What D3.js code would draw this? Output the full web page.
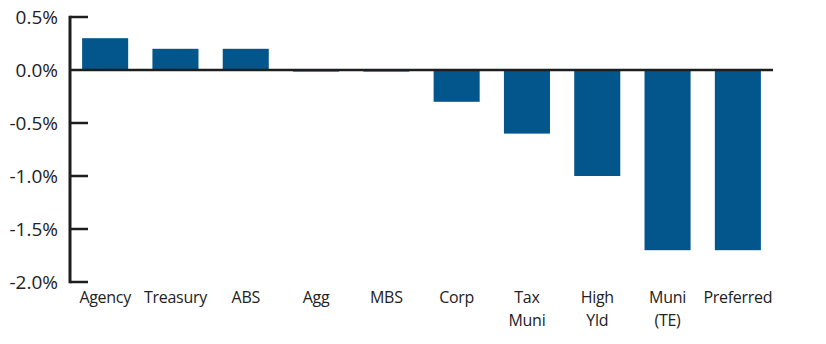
<!DOCTYPE html>
<html>
<head>
<meta charset="utf-8">
<script src="https://cdn.jsdelivr.net/npm/d3@7"></script>
<style>
  body { margin: 0; background: #fff; }
  text { font-family: "Open Sans", Lato, sans-serif; fill: #222; }
</style>
</head>
<body>
<svg width="826" height="344"></svg>
<script>
// data
var categories = ["Agency", "Treasury", "ABS", "Agg", "MBS", "Corp", "Tax\nMuni", "High\nYld", "Muni\n(TE)", "Preferred"];
var values = [0.3, 0.2, 0.2, -0.015, -0.015, -0.3, -0.6, -1.0, -1.7, -1.7];
var yTicks = [0.5, 0, -0.5, -1.0, -1.5, -2.0];

var svg = d3.select("svg");

var x = d3.scaleBand()
  .domain(categories)
  .range([70, 773])
  .paddingInner(0.345)
  .paddingOuter(0.1725);

var y = d3.scaleLinear()
  .domain([-2.0, 0.5])
  .range([282, 17]);

// bars
svg.append("g")
  .selectAll("rect")
  .data(values)
  .enter()
  .append("rect")
    .attr("x", function(d, i) { return x(categories[i]); })
    .attr("width", x.bandwidth())
    .attr("y", function(d) { return y(Math.max(0, d)); })
    .attr("height", function(d) { return Math.abs(y(d) - y(0)); })
    .attr("fill", "#02568c");

// zero line
svg.append("line")
  .attr("x1", 70).attr("x2", 773)
  .attr("y1", y(0)).attr("y2", y(0))
  .attr("stroke", "#1e1e1e")
  .attr("stroke-width", 2.5);

// y axis line + short ticks
svg.append("line")
  .attr("x1", 70).attr("x2", 70)
  .attr("y1", y(0.5) - 1.25).attr("y2", y(-2.0) + 1.25)
  .attr("stroke", "#1e1e1e")
  .attr("stroke-width", 3);

svg.append("g")
  .selectAll("line")
  .data(yTicks.filter(function(d) { return d !== 0; }))
  .enter()
  .append("line")
    .attr("x1", 70).attr("x2", 88)
    .attr("y1", function(d) { return y(d); })
    .attr("y2", function(d) { return y(d); })
    .attr("stroke", "#1e1e1e")
    .attr("stroke-width", 2.5);

// y labels (plain hyphen as in the source)
svg.append("g")
  .selectAll("text")
  .data(yTicks)
  .enter()
  .append("text")
    .attr("x", 58)
    .attr("y", function(d) { return y(d) + 6.5; })
    .attr("text-anchor", "end")
    .attr("font-size", 19)
    .text(function(d) { return d.toFixed(1) + "%"; });

// category labels
var lab = svg.append("g")
  .selectAll("text")
  .data(categories)
  .enter()
  .append("text")
    .attr("text-anchor", "middle")
    .attr("font-size", 16)
    .attr("letter-spacing", -0.3);

lab.each(function(d) {
  var t = d3.select(this);
  d.split("\n").forEach(function(s, k) {
    t.append("tspan")
      .attr("x", x(d) + x.bandwidth() / 2)
      .attr("y", 303 + k * 23)
      .text(s);
  });
});
</script>
</body>
</html>
